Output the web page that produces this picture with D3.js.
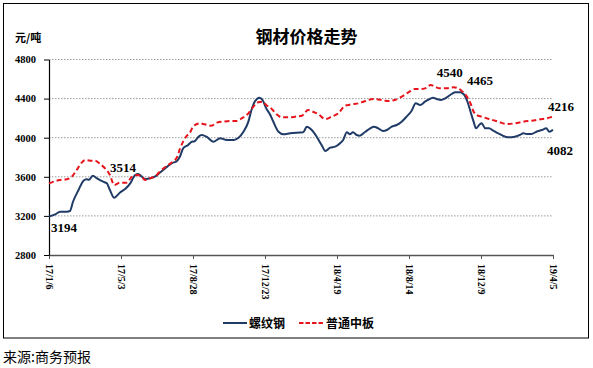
<!DOCTYPE html>
<html>
<head>
<meta charset="utf-8">
<script src="https://cdn.jsdelivr.net/npm/d3@7"></script>
<style>
  body { margin: 0; background: #fff; }
  svg { display: block; }
</style>
</head>
<body>
<script>
// 螺纹钢 (rebar) price, 元/吨
const rebarDates = [
  "2017-01-06","2017-01-16","2017-01-24","2017-02-04","2017-02-09","2017-02-14","2017-02-23","2017-03-03",
  "2017-03-08","2017-03-12","2017-03-18","2017-03-25","2017-04-04","2017-04-10","2017-04-15","2017-04-22",
  "2017-05-01","2017-05-11","2017-05-18","2017-05-26","2017-05-31","2017-06-06","2017-06-11","2017-06-19",
  "2017-06-27","2017-07-05","2017-07-16","2017-07-24","2017-08-02","2017-08-07","2017-08-12","2017-08-20",
  "2017-08-25","2017-08-31","2017-09-06","2017-09-11","2017-09-19","2017-09-30","2017-10-11","2017-10-22",
  "2017-11-02","2017-11-10","2017-11-18","2017-11-26","2017-12-01","2017-12-07","2017-12-14","2017-12-19",
  "2017-12-25","2017-12-31","2018-01-05","2018-01-14","2018-01-22","2018-02-02","2018-02-13","2018-02-23",
  "2018-03-01","2018-03-09","2018-03-17","2018-03-25","2018-03-31","2018-04-08","2018-04-16","2018-04-24",
  "2018-04-29","2018-05-05","2018-05-10","2018-05-15","2018-05-21","2018-05-26","2018-06-04","2018-06-12",
  "2018-06-18","2018-06-25","2018-07-03","2018-07-09","2018-07-17","2018-07-25","2018-08-02","2018-08-10",
  "2018-08-18","2018-08-25","2018-09-01","2018-09-09","2018-09-14","2018-09-22","2018-09-28","2018-10-05",
  "2018-10-12","2018-10-20","2018-10-28","2018-11-05","2018-11-11","2018-11-17","2018-11-22","2018-11-27",
  "2018-12-01","2018-12-06","2018-12-10","2018-12-16","2018-12-22","2018-12-29","2019-01-06","2019-01-14",
  "2019-01-22","2019-02-02","2019-02-10","2019-02-16","2019-02-21","2019-03-01","2019-03-09","2019-03-18",
  "2019-03-25","2019-03-30","2019-04-05"
];
const rebarPrices = [
  3194,3215,3243,3243,3250,3345,3465,3560,
  3575,3570,3612,3585,3550,3533,3465,3386,
  3437,3482,3533,3618,3628,3601,3575,3585,
  3601,3642,3697,3738,3762,3810,3891,3925,
  3955,3966,4010,4028,4010,3959,3994,3977,
  3977,4000,4061,4164,4283,4375,4409,4386,
  4300,4239,4171,4061,4035,4045,4051,4055,
  4113,4079,4010,3925,3864,3898,3908,3943,
  3977,4055,4035,4055,4028,4021,4061,4096,
  4113,4096,4069,4079,4113,4130,4164,4215,
  4273,4352,4334,4368,4386,4409,4396,4386,
  4403,4437,4464,4464,4444,4368,4266,4164,
  4096,4130,4147,4096,4096,4072,4045,4018,
  4004,4010,4028,4045,4038,4038,4061,4079,
  4096,4061,4082
];

// 普通中板 (medium plate) price, 元/吨
const plateDates = [
  "2017-01-06","2017-01-16","2017-01-24","2017-02-04","2017-02-12","2017-02-20","2017-02-28","2017-03-06",
  "2017-03-14","2017-03-22","2017-03-30","2017-04-07","2017-04-15","2017-04-22","2017-05-01","2017-05-12",
  "2017-05-20","2017-05-29","2017-06-06","2017-06-11","2017-06-19","2017-06-27","2017-07-05","2017-07-16",
  "2017-07-24","2017-08-02","2017-08-07","2017-08-12","2017-08-18","2017-08-23","2017-08-28","2017-09-08",
  "2017-09-16","2017-09-27","2017-10-06","2017-10-16","2017-10-27","2017-11-07","2017-11-15","2017-11-26",
  "2017-12-04","2017-12-12","2017-12-19","2017-12-25","2018-01-03","2018-01-11","2018-01-19","2018-01-30",
  "2018-02-10","2018-02-21","2018-03-03","2018-03-11","2018-03-20","2018-03-31","2018-04-10","2018-04-21",
  "2018-05-02","2018-05-13","2018-05-24","2018-06-04","2018-06-17","2018-07-01","2018-07-11","2018-07-22",
  "2018-08-02","2018-08-13","2018-08-24","2018-09-04","2018-09-12","2018-09-18","2018-09-25","2018-10-03",
  "2018-10-14","2018-10-25","2018-11-02","2018-11-09","2018-11-16","2018-11-22","2018-11-27","2018-12-02",
  "2018-12-10","2018-12-24","2019-01-06","2019-01-20","2019-02-02","2019-02-16","2019-03-01","2019-03-15",
  "2019-03-26","2019-04-05"
];
const platePrices = [
  3533,3555,3567,3575,3601,3670,3744,3772,
  3765,3765,3731,3687,3618,3516,3540,3540,
  3595,3618,3600,3567,3585,3601,3652,3710,
  3744,3800,3890,3960,4020,4050,4113,4147,
  4137,4123,4154,4164,4171,4171,4198,4249,
  4317,4362,4368,4334,4294,4239,4208,4208,
  4215,4225,4283,4266,4239,4191,4215,4249,
  4327,4341,4352,4375,4396,4386,4375,4386,
  4420,4464,4498,4498,4511,4539,4522,4505,
  4505,4516,4505,4471,4420,4350,4266,4232,
  4215,4188,4164,4140,4147,4164,4174,4188,
  4198,4216
];

const xTickDates = ["2017-01-06","2017-05-03","2017-08-28","2017-12-23","2018-04-19","2018-08-14","2018-12-09","2019-04-05"];
const yTicks = [2800, 3200, 3600, 4000, 4400, 4800];

// point labels: [date, value, text] as printed on the chart
const callouts = [
  ["2017-01-06", 3194, "3194"],
  ["2017-04-29", 3514, "3514"],
  ["2018-10-08", 4540, "4540"],
  ["2018-11-25", 4465, "4465"],
  ["2019-04-05", 4216, "4216"],
  ["2019-04-05", 4082, "4082"]
];

const W = 593, H = 368;
const margin = { top: 59.5, right: 40, bottom: 113, left: 49 };
const width = W - margin.left - margin.right,
  height = H - margin.top - margin.bottom;

const serif = "'Liberation Serif', 'Times New Roman', serif";
const cjk = "'Noto Sans CJK SC', sans-serif";
const parse = d3.timeParse("%Y-%m-%d");
const fmt = d3.timeFormat("%y/%-m/%-d");

const root = d3.select("body").append("svg").attr("width", W).attr("height", H);

// outer frame
root.append("rect")
  .attr("x", 3.5).attr("y", 3.5)
  .attr("width", 585).attr("height", 334.5)
  .attr("fill", "#fff")
  .attr("stroke", "#000")
  .attr("stroke-width", 1);

const svg = root.append("g").attr("transform", `translate(${margin.left},${margin.top})`);

const x = d3.scaleTime()
  .domain([parse(xTickDates[0]), parse(xTickDates[xTickDates.length - 1])])
  .range([0, width]);

const y = d3.scaleLinear().domain([2800, 4800]).range([height, 0]);

// grid lines
svg.append("g")
  .selectAll("line")
  .data(yTicks.slice(1))
  .join("line")
  .attr("x1", 0)
  .attr("x2", width)
  .attr("y1", (d) => y(d))
  .attr("y2", (d) => y(d))
  .attr("stroke", "#9a9a9a")
  .attr("stroke-width", 1)
  .attr("stroke-dasharray", "1.5,1.5");

// x axis
const xAxis = svg.append("g")
  .attr("transform", `translate(0,${height})`)
  .call(d3.axisBottom(x).tickValues(xTickDates.map(parse)).tickFormat(fmt).tickSize(4).tickSizeOuter(0));
xAxis.select(".domain").attr("stroke", "#555").attr("stroke-width", 1.3);
xAxis.selectAll(".tick line").attr("stroke", "#555");
xAxis.selectAll("text")
  .attr("transform", "rotate(90)")
  .attr("x", 9)
  .attr("y", 0)
  .attr("dy", "0.35em")
  .style("text-anchor", "start")
  .style("font-family", serif)
  .style("font-weight", "bold")
  .style("font-size", "10px")
  .attr("fill", "#000");

// y axis
const yAxis = svg.append("g")
  .call(d3.axisLeft(y).tickValues(yTicks).tickFormat(d3.format("d")).tickSize(5).tickSizeOuter(0));
yAxis.select(".domain").attr("stroke", "#000").attr("stroke-width", 1.2);
yAxis.selectAll(".tick line").attr("stroke", "#000");
yAxis.selectAll("text")
  .attr("x", -13)
  .style("font-family", serif)
  .style("font-weight", "bold")
  .style("font-size", "10.5px")
  .attr("fill", "#000");

const line = d3.line()
  .curve(d3.curveMonotoneX)
  .x((d) => x(d[0]))
  .y((d) => y(d[1]));

const plate = plateDates.map((d, i) => [parse(d), platePrices[i]]);
const rebar = rebarDates.map((d, i) => [parse(d), rebarPrices[i]]);

svg.append("path")
  .datum(rebar)
  .attr("fill", "none")
  .attr("stroke", "#1f3b66")
  .attr("stroke-width", 2)
  .attr("d", line);

svg.append("path")
  .datum(plate)
  .attr("fill", "none")
  .attr("stroke", "#e8141c")
  .attr("stroke-width", 2)
  .attr("stroke-dasharray", "5,3")
  .attr("d", line);

// value callouts, shifted off the line like the original
const offsets = {
  "3194": [2, 15.5], "3514": [-8.5, -13], "4540": [-6, -8],
  "4465": [-5.5, -7], "4216": [-5, -5.5], "4082": [-6, 25.3]
};
svg.selectAll(".callout")
  .data(callouts)
  .join("text")
  .attr("class", "callout")
  .attr("x", (d) => x(parse(d[0])) + offsets[d[2]][0])
  .attr("y", (d) => y(d[1]) + offsets[d[2]][1])
  .style("font-family", serif)
  .style("font-weight", "bold")
  .style("font-size", "13px")
  .text((d) => d[2]);

// title and unit
root.append("text")
  .attr("x", 306.5)
  .attr("y", 43)
  .attr("text-anchor", "middle")
  .style("font-family", cjk)
  .style("font-weight", "bold")
  .style("font-size", "17px")
  .text("钢材价格走势");

root.append("text")
  .attr("x", 15)
  .attr("y", 42)
  .style("font-family", cjk)
  .style("font-weight", "bold")
  .style("font-size", "11px")
  .text("元/吨");

// legend
const legend = root.append("g").attr("transform", "translate(223,323)");
legend.append("line")
  .attr("x1", 0).attr("x2", 24)
  .attr("stroke", "#1f3b66").attr("stroke-width", 2);
legend.append("text")
  .attr("x", 26).attr("y", 4.5)
  .style("font-family", cjk).style("font-weight", "bold").style("font-size", "12px")
  .text("螺纹钢");
legend.append("line")
  .attr("x1", 76).attr("x2", 100)
  .attr("stroke", "#e8141c").attr("stroke-width", 2).attr("stroke-dasharray", "4.5,2");
legend.append("text")
  .attr("x", 103).attr("y", 4.5)
  .style("font-family", cjk).style("font-weight", "bold").style("font-size", "12px")
  .text("普通中板");

// source note
root.append("text")
  .attr("x", 3)
  .attr("y", 362)
  .style("font-family", cjk)
  .style("font-size", "14px")
  .text("来源:商务预报");
</script>
</body>
</html>
